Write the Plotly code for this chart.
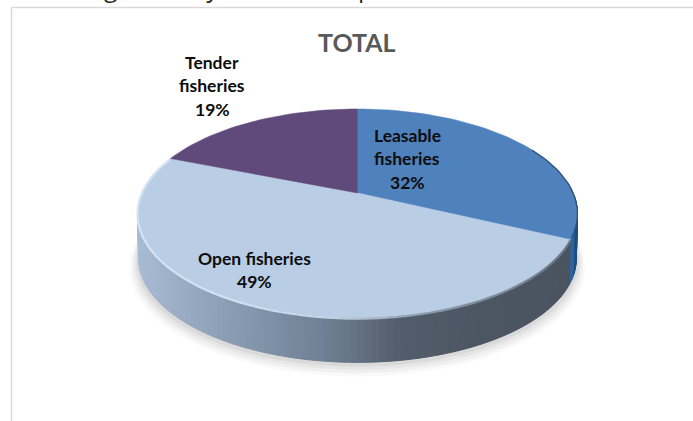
import math
import plotly.graph_objects as go

# ---- data ----
categories = ["Leasable fisheries", "Open fisheries", "Tender fisheries"]
values = [32, 49, 19]
label_lines = [["Leasable", "fisheries"], ["Open fisheries"], ["Tender", "fisheries"]]
title_text = "TOTAL"
cut_off_text = "states together, by, and 79 in open fisheries"

# ---- style ----
top_colors = ["#4f81bd", "#b9cde5", "#604a7b"]
label_pos = [(407, 135), (254, 258), (212, 62)]
LABEL_STEP = 23.5
CX, CY = 357.5, 193
B, A, K = 215.7, 100.5, 0.196
DEPTH = 45


def project(deg, drop=0.0, grow=1.0):
    t = math.radians(deg)
    u, v = math.sin(t), math.cos(t)
    w = 1 + K * v
    return CX + grow * B * u / w, CY - grow * A * v / w + drop


def lerp_hex(stops, x):
    if x <= stops[0][0]:
        return stops[0][1]
    for (x0, c0), (x1, c1) in zip(stops, stops[1:]):
        if x <= x1:
            f = (x - x0) / (x1 - x0)
            a = [int(c0[i:i + 2], 16) for i in (1, 3, 5)]
            b = [int(c1[i:i + 2], 16) for i in (1, 3, 5)]
            return "#%02x%02x%02x" % tuple(round(p + (q - p) * f) for p, q in zip(a, b))
    return stops[-1][1]


side_stops = [(135, "#a9bcd3"), (180, "#9aadc4"), (250, "#8396ac"), (330, "#6e7e92"),
              (400, "#525d6b"), (480, "#4c5562"), (575, "#4a5461")]
rim_stops = [(135, "#d6e4f4"), (230, "#d3e1f1"), (330, "#c4d4e7"), (420, "#8f9db0"),
             (570, "#6c7887")]

fig = go.Figure()


def poly(xs, ys, color, opacity=1.0, lw=0.0):
    fig.add_trace(go.Scatter(x=xs, y=ys, mode="lines", fill="toself", fillcolor=color,
                             opacity=opacity, hoverinfo="skip",
                             line=dict(color=color, width=lw)))


# soft ground shadow
for grow, drop, op in [(1.035, DEPTH + 9, 0.05), (1.025, DEPTH + 7, 0.07),
                       (1.015, DEPTH + 5, 0.09), (1.006, DEPTH + 3, 0.12)]:
    pts = [project(d, drop, grow) for d in range(0, 361, 3)]
    poly([p[0] for p in pts], [p[1] for p in pts], "#808080", op)

# slice boundaries from the values
total = sum(values)
bounds = [0]
for v in values:
    bounds.append(bounds[-1] + 360 * v / total)

# side wall, in narrow strips
STEP = 1.5
d = 84.0
while d < 282:
    mid = d + STEP / 2
    x_mid = project(mid)[0]
    if mid < bounds[1]:
        col = "#1f4e82" if x_mid > 574 else "#2f639c"
    else:
        col = lerp_hex(side_stops, x_mid)
    a0, a1 = project(d), project(d + STEP)
    b0, b1 = project(d, DEPTH, 0.995), project(d + STEP, DEPTH, 0.995)
    poly([a0[0], a1[0], b1[0], b0[0], a0[0]], [a0[1], a1[1], b1[1], b0[1], a0[1]], col, lw=1)
    d += STEP

# top face slices
for i, col in enumerate(top_colors):
    n = max(2, int((bounds[i + 1] - bounds[i]) / 2))
    pts = [(CX, CY)] + [project(bounds[i] + (bounds[i + 1] - bounds[i]) * j / n) for j in range(n + 1)] + [(CX, CY)]
    poly([p[0] for p in pts], [p[1] for p in pts], col, lw=0.5)

# bevel highlight along the open-fisheries rim
d = bounds[1]
while d < bounds[2] - 1:
    p, q = project(d, 0.6), project(d + 2, 0.6)
    fig.add_trace(go.Scatter(x=[p[0], q[0]], y=[p[1], q[1]], mode="lines", hoverinfo="skip",
                             line=dict(color=lerp_hex(rim_stops, (p[0] + q[0]) / 2), width=2.2)))
    d += 2

# thin dark edge around the leasable rim
pts = [project(bounds[0] + j, 0.2) for j in range(62, int(bounds[1]) + 1, 2)]
fig.add_trace(go.Scatter(x=[p[0] for p in pts], y=[p[1] for p in pts], mode="lines",
                         hoverinfo="skip", line=dict(color="#2c5079", width=1.2)))

annotations = []
for lines, val, (lx, ly) in zip(label_lines, values, label_pos):
    for j, txt in enumerate(lines + [f"{val}%"]):
        annotations.append(dict(x=lx, y=ly + j * LABEL_STEP, xref="x", yref="y", text=txt,
                                showarrow=False, xanchor="center", yanchor="middle",
                                font=dict(family="Lato", size=17.5, color="#0d0d0d", weight="bold")))
annotations.append(dict(x=357, y=42, xref="x", yref="y", text=title_text, showarrow=False,
                        xanchor="center", yanchor="middle",
                        font=dict(family="Lato", size=25, color="#595959", weight="bold")))
annotations.append(dict(x=5, y=5.5, xref="x", yref="y", text=cut_off_text, showarrow=False,
                        xanchor="left", yanchor="bottom", borderpad=0,
                        font=dict(family="Open Sans", size=24.5, color="#262626")))

fig.update_layout(
    width=693, height=421, margin=dict(l=0, r=0, t=0, b=0),
    paper_bgcolor="white", plot_bgcolor="white", showlegend=False,
    xaxis=dict(range=[0, 693], visible=False, fixedrange=True),
    yaxis=dict(range=[421, 0], visible=False, fixedrange=True),
    annotations=annotations,
    shapes=[
        dict(type="line", xref="x", yref="y", x0=11.5, x1=693, y0=7.5, y1=7.5,
             line=dict(color="#d9d9d9", width=1.5)),
        dict(type="line", xref="x", yref="y", x0=11.5, x1=11.5, y0=7.5, y1=421,
             line=dict(color="#d9d9d9", width=1.5)),
    ],
)
fig.write_html("out.html", config={"displayModeBar": False},
               post_script="document.body.style.margin='0';document.body.style.overflow='hidden';")
